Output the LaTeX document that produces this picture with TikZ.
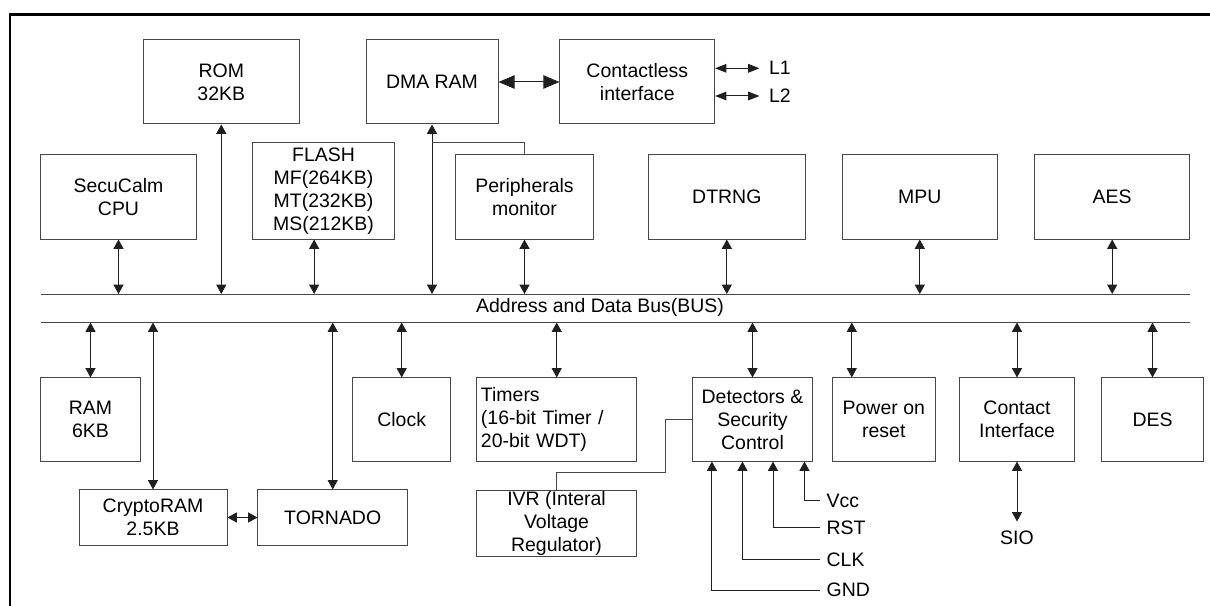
\documentclass[tikz,border=0pt]{standalone}
\usepackage{fontspec}
\setmainfont{Liberation Sans}
\usetikzlibrary{arrows.meta, positioning}
\tikzset{x=0.75pt, y=-0.75pt, >={Triangle[length=7pt,width=7.5pt]}}
\newcommand\boxfont{\fontsize{14.6pt}{17.25pt}\selectfont}

\begin{document}
\begin{tikzpicture}
% Style
[
    block/.style={draw=box_line, line width=0.75pt, minimum height=63pt,
        inner sep=2pt, align=center, font=\boxfont},
    bus line/.style={draw=box_line, line width=0.75pt},
    bus arrow/.style={<->, draw=arrow_line, line width=0.75pt},
    wide arrow/.style={{Triangle[length=12pt,width=10pt]}-{Triangle[length=12pt,width=10pt]},
        draw=arrow_line, line width=0.75pt},
    antenna arrow/.style={{Triangle[length=8.5pt,width=6.5pt]}-{Triangle[length=8.5pt,width=6.5pt]},
        draw=arrow_line, line width=0.75pt},
    pin arrow/.style={->, draw=arrow_line, line width=0.75pt},
    plain link/.style={draw=box_line, line width=0.75pt},
    pin label/.style={anchor=west, inner xsep=5pt, font=\boxfont},
    frame line/.style={line width=1.75pt}
]

% Define: Colors
\colorlet{box_line}{black!72}
\colorlet{arrow_line}{black!88}

% Define: Canvas
\useasboundingbox (0,0) rectangle (1210,606);

%================================== Frame ==================================
\draw [frame line] (10,606) |- (1210,14.5);

%================================ Upper row ================================
% Draw: Memories and cores
\node [block, minimum width=117.4pt] (rom)    at (221.3,82)  {ROM\\32KB};
\node [block, minimum width=99pt]    (dma)    at (432,82)    {DMA RAM};
\node [block, minimum width=116pt]   (rf)     at (637.3,82)  {Contactless\\interface};
\node [block, minimum width=116.3pt] (cpu)    at (118.5,197) {SecuCalm\\CPU};
\node [block, minimum width=105.8pt, minimum height=72pt, inner ysep=0pt]
                                     (flash)  at (323.5,191) {FLASH\\MF(264KB)\\MT(232KB)\\MS(212KB)};
\node [block, minimum width=102.8pt] (periph) at (524.5,197) {Peripherals\\monitor};
\node [block, minimum width=117.3pt] (dtrng)  at (726.8,197) {DTRNG};
\node [block, minimum width=115.8pt] (mpu)    at (919.8,197) {MPU};
\node [block, minimum width=116.1pt] (aes)    at (1112.2,197){AES};

% Draw: RF side
\node [pin label, inner xsep=7pt] (lone) at (759.5,68.3) {L1};
\node [pin label, inner xsep=7pt] (ltwo) at (759.5,96)   {L2};
\draw [wide arrow]    (dma.east) -- (rf.west);
\draw [antenna arrow] (rf.east |- lone.west) -- (lone.west);
\draw [antenna arrow] (rf.east |- ltwo.west) -- (ltwo.west);

%=================================== Bus ===================================
\coordinate (bus nw) at (41,294);
\coordinate (bus ne) at (1190,294);
\coordinate (bus sw) at (41,322.5);
\coordinate (bus se) at (1190,322.5);
\draw [bus line] (bus nw) -- (bus ne);
\draw [bus line] (bus sw) -- (bus se);
\node [font=\boxfont, inner sep=0pt] (bus label) at (600,307.5) {Address and Data Bus(BUS)};

% Draw: Upper links
\foreach \blk in {cpu, rom, dma, periph, dtrng, mpu, aes} {
    \draw [bus arrow] (\blk.south) -- (\blk.south |- bus nw);
}
\draw [bus arrow] ([xshift=-7pt]flash.south) -- ([xshift=-7pt]flash.south |- bus nw);
\draw [plain link] (periph.north) |- (flash.north -| dma.south);

%================================ Lower row ================================
\node [block, minimum width=74.3pt, minimum height=62.3pt]  (ram)       at (90.5,419.5)  {RAM\\6KB};
\node [block, minimum width=111pt, minimum height=41.3pt]   (cryptoram) at (153,517.5)   {CryptoRAM\\2.5KB};
\node [block, minimum width=112.1pt, minimum height=41.3pt] (tornado)   at (332.7,517.5) {TORNADO};
\node [block, minimum width=73.1pt, minimum height=62.3pt]  (clock)     at (401.7,419.5) {Clock};
\node [block, text width=113.6pt, inner xsep=3.4pt, align=left, minimum height=62.3pt]
                                                            (timers)    at (556.7,419.5) {Timers\\(16-bit Timer /\\20-bit WDT)};
\node [block, minimum width=120pt, minimum height=49.5pt, inner ysep=0pt]
                                                            (ivr)       at (556.5,523)   {IVR (Interal\\Voltage\\Regulator)};
\node [block, minimum width=89.3pt, minimum height=62.3pt]  (detect)    at (752.5,419.5) {Detectors \&\\Security\\Control};
\node [block, minimum width=76.8pt, minimum height=62.3pt]  (por)       at (883.8,419.5) {Power on\\reset};
\node [block, minimum width=86.3pt, minimum height=62.3pt]  (contact)   at (1017,419.5)  {Contact\\Interface};
\node [block, minimum width=75.8pt, minimum height=62.3pt]  (des)       at (1152.5,419.5){DES};

% Draw: Lower links
\foreach \blk in {ram, cryptoram, tornado, clock, timers, detect, contact, des} {
    \draw [bus arrow] (\blk.north) -- (\blk.north |- bus sw);
}
\draw [bus arrow] ([xshift=-24pt]por.north) -- ([xshift=-24pt]por.north |- bus sw);
\draw [bus arrow] (cryptoram.east) -- (tornado.west);

% Draw: Regulator feed
\coordinate (ivr bend) at (665.3,472.7);
\draw [plain link] (ivr.north) |- (ivr bend) |- (detect.west);

% Draw: Pins
\foreach \pin/\txt/\ypos/\dx in {vcc/Vcc/500.7/84pt, rst/RST/527.7/60.4pt,
                                 clk/CLK/559.3/37.5pt, gnd/GND/590/14.6pt} {
    \node [pin label] (\pin) at (819.7,\ypos) {\txt};
    \draw [pin arrow] (\pin.west) -| ([xshift=\dx]detect.south west);
}
\node [font=\boxfont, inner xsep=2pt, inner ysep=7pt] (sio) at (1017,538) {SIO};
\draw [bus arrow] (contact.south) -- (sio.north);
%==================================== END ====================================
\end{tikzpicture}
\end{document}
